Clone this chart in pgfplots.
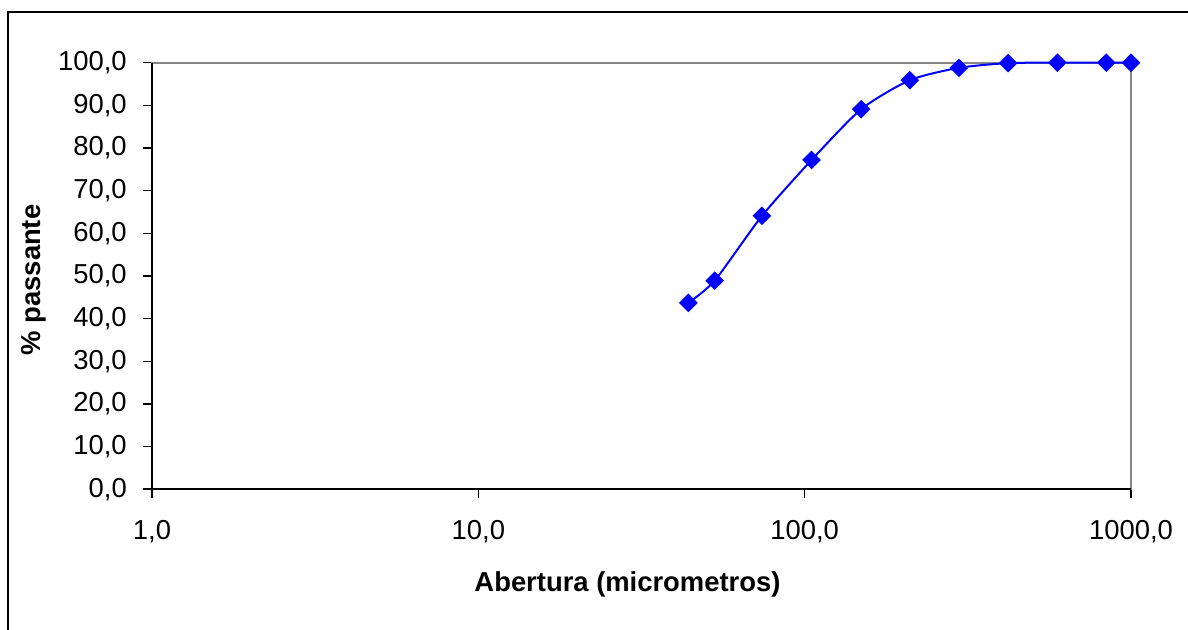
\documentclass[border=0pt]{standalone}
\usepackage{fontspec}
\setmainfont{Liberation Sans}
\usepackage{pgfplots}
\pgfplotsset{compat=1.18}
\definecolor{framegray}{RGB}{134,134,134}
\begin{document}
\begin{tikzpicture}[font=\fontsize{13.7}{16}\selectfont]
\useasboundingbox (-76pt,-70.35pt) rectangle (518pt,244.65pt);
\draw[black, line width=0.8pt] (-72pt,-80pt) -- (-72pt,238.65pt) -- (530pt,238.65pt);
\begin{axis}[
  at={(0,0)}, anchor=south west,
  scale only axis, width=489.5pt, height=213.3pt,
  xmode=log, xmin=1, xmax=1000, ymin=0, ymax=100,
  xtick={1,10,100,1000},
  xticklabels={{1,0},{10,0},{100,0},{1000,0}},
  ytick={0,10,20,30,40,50,60,70,80,90,100},
  yticklabels={{0,0},{10,0},{20,0},{30,0},{40,0},{50,0},{60,0},{70,0},{80,0},{90,0},{100,0}},
  xminorticks=false, yminorticks=false,
  tick align=outside, xtick pos=bottom, ytick pos=left,
  major tick length=4.6pt,
  tick style={black, line width=0.8pt},
  axis line style={draw=framegray, line width=1pt},
  clip=false,
  ticklabel style={font=\fontsize{13.7}{16}\selectfont},
  yticklabel style={xshift=-4.5pt},
  xticklabel style={yshift=-7.5pt},
]
\addplot[blue, line width=1pt, smooth, tension=0.4,
  mark=square*, mark size=2.8pt, mark options={rotate=45, fill=blue, draw=blue, solid}]
  coordinates {
  (44,43.7) (53,48.9) (74,64.1) (105,77.2) (149,89.1) (210,95.9)
  (297,98.8) (420,99.9) (595,100) (840,100) (1000,100)
  };
\draw[black, line width=1pt] (rel axis cs:0,1) -- (rel axis cs:0,0) -- (rel axis cs:1,0);
\end{axis}
\node[anchor=base] at (237.75pt,-51.35pt) {\bfseries Abertura (micrometros)};
\node[rotate=90, anchor=base] at (-55.5pt,104.65pt) {\bfseries\% passante};
\end{tikzpicture}
\end{document}
